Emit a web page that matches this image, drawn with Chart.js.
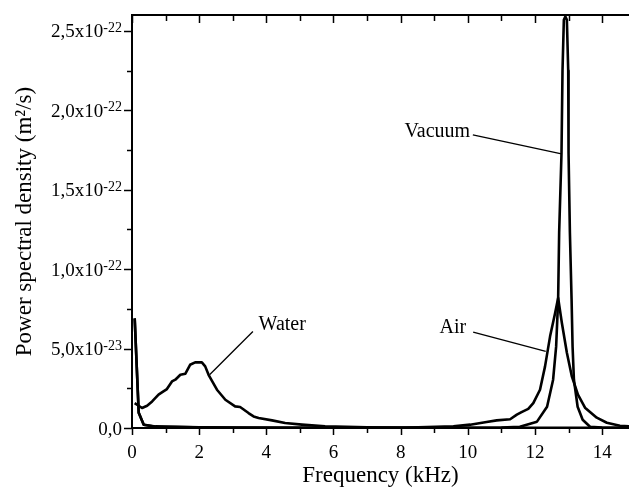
<!DOCTYPE html>
<html>
<head>
<meta charset="utf-8">
<script src="https://cdn.jsdelivr.net/npm/chart.js@4.4.0/dist/chart.umd.min.js"></script>
<style>
  body { margin: 0; background: #fff; }
  canvas { display: block; }
</style>
</head>
<body>
<canvas id="myChart" width="629" height="491"></canvas>
<script>
// frecuencias en kHz, densidad en unidades de 1e-23 m2/s
const waterFreq = [0.08, 0.30, 0.45, 0.60, 0.79, 0.89, 1.04, 1.19, 1.29, 1.44, 1.59, 1.73, 1.88, 2.08, 2.18, 2.28, 2.53, 2.78, 3.07, 3.22, 3.47, 3.62, 3.77, 4.17, 4.56, 5.06, 5.75, 7.0, 8.0, 10.0, 12.0, 14.8];
const waterPsd  = [1.57, 1.26, 1.40, 1.67, 2.10, 2.24, 2.45, 2.93, 3.04, 3.35, 3.42, 3.98, 4.13, 4.13, 3.88, 3.35, 2.41, 1.78, 1.36, 1.32, 0.94, 0.73, 0.63, 0.48, 0.31, 0.21, 0.10, 0.05, 0.03, 0.02, 0.02, 0.02];

const airFreq = [0.08, 0.20, 0.35, 0.70, 2.0, 4.0, 6.0, 8.0, 9.57, 10.07, 10.56, 10.86, 11.26, 11.46, 11.60, 11.80, 11.95, 12.15, 12.30, 12.45, 12.60, 12.69, 12.80, 12.95, 13.10, 13.28, 13.49, 13.84, 14.14, 14.53, 14.8];
const airPsd  = [6.9, 0.96, 0.21, 0.10, 0.05, 0.03, 0.02, 0.02, 0.10, 0.21, 0.38, 0.48, 0.55, 0.84, 1.00, 1.20, 1.57, 2.41, 3.88, 5.77, 7.24, 8.18, 6.63, 4.74, 3.23, 2.10, 1.28, 0.65, 0.33, 0.14, 0.10];

const vacuumFreq = [0.08, 0.20, 0.35, 0.70, 3.0, 6.0, 9.0, 11.0, 11.55, 12.06, 12.36, 12.54, 12.63, 12.69, 12.72, 12.79, 12.82, 12.86, 12.905, 12.95, 12.99, 13.00, 13.04, 13.09, 13.12, 13.16, 13.27, 13.42, 13.64, 14.0, 14.8];
const vacuumPsd  = [6.9, 0.96, 0.21, 0.08, 0.02, 0.01, 0.01, 0.03, 0.08, 0.40, 1.34, 3.04, 5.12, 8.1, 12.3, 17.3, 22.5, 25.7, 25.9, 25.7, 22.5, 17.3, 12.3, 8.1, 5.12, 3.04, 1.34, 0.52, 0.08, 0.03, 0.02];

// etiquetas del eje y (mantisa + exponente)
const yTickValues = [0, 5, 10, 15, 20, 25];
const yTickMain   = ['0,0', '5,0x10', '1,0x10', '1,5x10', '2,0x10', '2,5x10'];
const yTickExp    = ['', '-23', '-22', '-22', '-22', '-22'];

const seriesNames = ['Water', 'Air', 'Vacuum'];

// anotaciones con linea guia (coordenadas en datos)
const notes = [
  { text: 'Vacuum', x: 10.07, y: 18.35, align: 'right', from: [10.15, 18.46], to: [12.79, 17.26] },
  { text: 'Air',    x: 9.95,  y: 5.98,  align: 'right', from: [10.16, 6.04],  to: [12.32, 4.82] },
  { text: 'Water',  x: 3.77,  y: 6.19,  align: 'left',  from: [3.60, 6.08],   to: [2.31, 3.35] }
];

const serif = '"Liberation Serif", "Times New Roman", serif';

function toPoints(xs, ys) {
  return xs.map((x, i) => ({ x: x, y: ys[i] }));
}

const extras = {
  id: 'extras',
  afterDraw(chart) {
    const ctx = chart.ctx;
    const xs = chart.scales.x;
    const ys = chart.scales.y;
    const area = chart.chartArea;

    ctx.save();
    ctx.strokeStyle = '#000';
    ctx.fillStyle = '#000';

    // linea superior del marco
    ctx.lineWidth = 2;
    ctx.beginPath();
    ctx.moveTo(area.left, area.top);
    ctx.lineTo(area.right, area.top);
    ctx.stroke();

    // marcas del eje x (abajo hacia afuera, arriba hacia adentro)
    ctx.lineWidth = 1.5;
    for (let v = 0; v <= 14; v++) {
      const px = Math.round(xs.getPixelForValue(v)) + 0.5;
      const major = v % 2 === 0;
      ctx.beginPath();
      ctx.moveTo(px, area.bottom);
      ctx.lineTo(px, area.bottom + (major ? 7 : 5));
      ctx.moveTo(px, area.top);
      ctx.lineTo(px, area.top + (major ? 8 : 6));
      ctx.stroke();
    }

    // marcas del eje y
    for (let v = 0; v <= 25; v += 2.5) {
      const py = Math.round(ys.getPixelForValue(v)) + 0.5;
      const major = v % 5 === 0;
      ctx.beginPath();
      ctx.moveTo(area.left, py);
      ctx.lineTo(area.left - (major ? 8 : 5), py);
      ctx.stroke();
    }

    // etiquetas del eje y con exponente
    ctx.textAlign = 'right';
    ctx.textBaseline = 'alphabetic';
    yTickValues.forEach((v, i) => {
      const py = ys.getPixelForValue(v);
      let right = area.left - 10;
      if (yTickExp[i]) {
        ctx.font = '14px ' + serif;
        ctx.fillText(yTickExp[i], right, py + 1);
        right -= ctx.measureText(yTickExp[i]).width;
      }
      ctx.font = '19px ' + serif;
      ctx.fillText(yTickMain[i], right, py + 6.5);
    });

    // anotaciones
    ctx.font = '20px ' + serif;
    ctx.lineWidth = 1.3;
    notes.forEach(n => {
      ctx.beginPath();
      ctx.moveTo(xs.getPixelForValue(n.from[0]), ys.getPixelForValue(n.from[1]));
      ctx.lineTo(xs.getPixelForValue(n.to[0]), ys.getPixelForValue(n.to[1]));
      ctx.stroke();
      ctx.textAlign = n.align;
      ctx.fillText(n.text, xs.getPixelForValue(n.x), ys.getPixelForValue(n.y));
    });

    ctx.restore();
  }
};

const ctx = document.getElementById('myChart');

const lineStyle = {
  showLine: true,
  borderColor: '#000',
  backgroundColor: '#000',
  borderWidth: 2.6,
  borderJoinStyle: 'round',
  pointRadius: 0,
  tension: 0,
  fill: false
};

const miGrafica = new Chart(ctx, {
  type: 'scatter',
  data: {
    datasets: [
      Object.assign({ label: seriesNames[0], data: toPoints(waterFreq, waterPsd) }, lineStyle),
      Object.assign({ label: seriesNames[1], data: toPoints(airFreq, airPsd) }, lineStyle),
      Object.assign({ label: seriesNames[2], data: toPoints(vacuumFreq, vacuumPsd) }, lineStyle)
    ]
  },
  options: {
    responsive: false,
    animation: false,
    layout: { padding: { top: 15, right: 0, left: 0, bottom: 0 } },
    plugins: {
      legend: { display: false },
      tooltip: { enabled: false }
    },
    scales: {
      x: {
        type: 'linear',
        min: 0,
        max: 14.8,
        grid: { display: false, drawTicks: false },
        border: { display: true, color: '#000', width: 2 },
        ticks: {
          stepSize: 2,
          includeBounds: false,
          maxRotation: 0,
          padding: 14,
          color: '#000',
          font: { family: serif, size: 19 }
        },
        title: {
          display: true,
          text: 'Frequency (kHz)',
          color: '#000',
          font: { family: serif, size: 23 },
          padding: { top: 0, bottom: 1 }
        },
        afterFit: s => { s.height = 63; }
      },
      y: {
        type: 'linear',
        min: 0,
        max: 26,
        grid: { display: false, drawTicks: false },
        border: { display: true, color: '#000', width: 2 },
        ticks: { display: false },
        title: {
          display: true,
          text: 'Power spectral density (m²/s)',
          color: '#000',
          font: { family: serif, size: 23 },
          padding: { top: 11, bottom: 0 }
        },
        afterFit: s => { s.width = 132; }
      }
    }
  },
  plugins: [extras]
});
</script>
</body>
</html>
